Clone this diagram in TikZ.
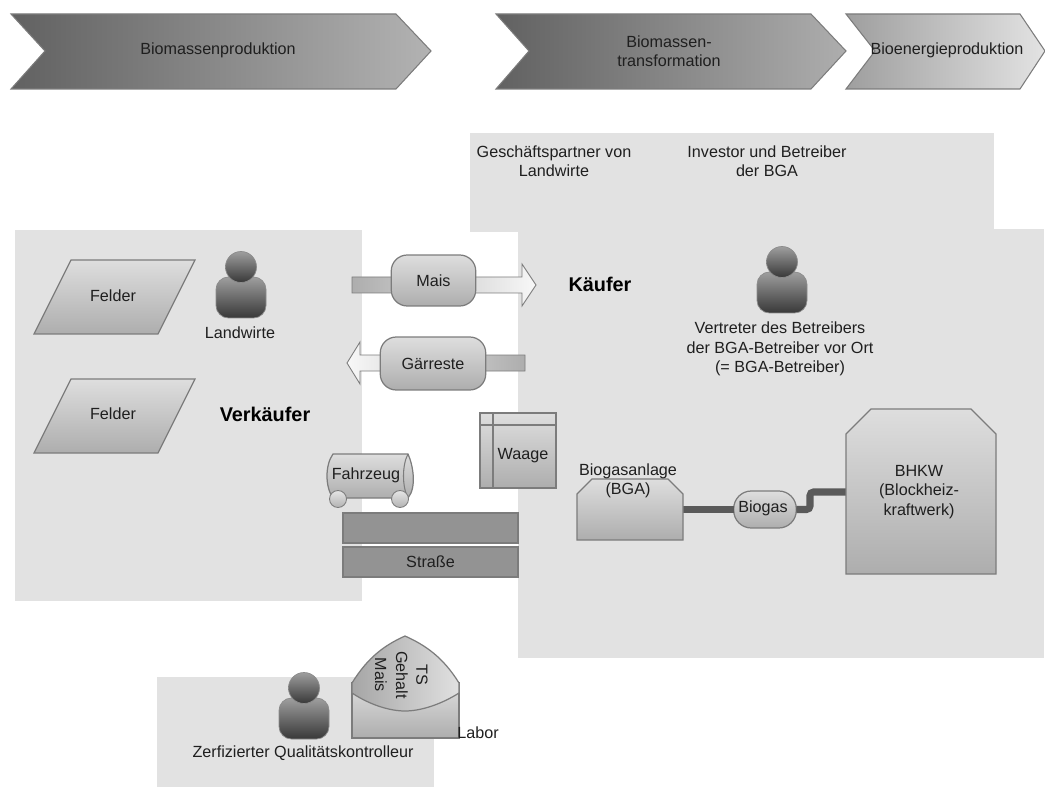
\documentclass[tikz,border=0pt]{standalone}
\usepackage{fontspec}
\setmainfont{Liberation Sans}
\definecolor{panelgray}{HTML}{E2E2E2}
\definecolor{edgegray}{HTML}{7C7C7C}
\definecolor{roadgray}{HTML}{939393}
\definecolor{gasgray}{HTML}{5A5A5A}
\tikzset{
  every node/.style={font=\fontsize{9.2}{11}\selectfont, align=center, inner sep=0pt, outer sep=0pt, text=black!88},
  panel/.style={fill=panelgray},
  chevron/.style={draw=edgegray, line width=0.6pt},
  blockarrow/.style={draw=edgegray, line width=0.5pt},
  softfill/.style={draw=edgegray, line width=0.7pt, top color=#1, bottom color=black!32},
  softfill/.default=black!13,
  pill/.style={softfill, rounded corners=0.32cm},
  headlabel/.style={font=\fontsize{11.3}{13}\selectfont\bfseries, text=black},
  gasline/.style={draw=gasgray, line width=4pt},
  road/.style={draw=edgegray, fill=roadgray, line width=0.6pt, minimum width=3.5cm, minimum height=0.6cm},
  wheel/.style={draw=edgegray, line width=0.5pt, top color=black!10, bottom color=black!30},
  personpart/.style={draw=black!45, line width=0.4pt, top color=black!38, bottom color=black!78}
}
\begin{document}
\begin{tikzpicture}[x=0.02cm, y=-0.02cm]
  \useasboundingbox (0,0) rectangle (1045,787);

  % grey areas
  \fill[panel] (470,133) rectangle (994,232);
  \fill[panel] (518,229) rectangle (1044,658);
  \fill[panel] (15,230) rectangle (362,601);
  \fill[panel] (157,677) rectangle (434,787);

  % value chain
  \shadedraw[chevron, left color=black!62, right color=black!30] (11,14) -- (396,14) -- (431,51) -- (396,89) -- (11,89) -- (45,51) -- cycle;
  \shadedraw[chevron, left color=black!62, right color=black!32] (496,14) -- (811,14) -- (846,51) -- (811,89) -- (496,89) -- (529,51) -- cycle;
  \shadedraw[chevron, left color=black!38, right color=black!11] (846,14) -- (1020,14) -- (1045,51) -- (1020,89) -- (846,89) -- (875,51) -- cycle;
  \node (biomasse) at (218,50) {Biomassenproduktion};
  \node (transform) at (669,51) {Biomassen-\\transformation};
  \node (bioenergie) at (947,50) {Bioenergieproduktion};

  \node (partner) at (554,161) {Geschäftspartner von\\Landwirte};
  \node (investor) at (767,161) {Investor und Betreiber\\der BGA};

  % seller side
  \draw[softfill] (71,260) -- (195,260) -- (158,334) -- (34,334) -- cycle;
  \draw[softfill] (71,379) -- (195,379) -- (158,453) -- (34,453) -- cycle;
  \node (felderA) at (113,296) {Felder};
  \node (felderB) at (113,414) {Felder};
  \node (landwirte) at (240,333) {Landwirte};
  \node[headlabel] (verkaeufer) at (265,414) {Verkäufer};
  \node[headlabel] (kaeufer) at (600,284) {Käufer};

  % persons
  \foreach \px/\py in {241/267, 782/262, 304/688} {
    \shade[personpart, rounded corners=0.25cm] (\px-25,\py+10) rectangle (\px+25,\py+51);
    \shade[personpart] (\px,\py) circle (15.5);
  }
  \node (vertreter) at (780,349) {Vertreter des Betreibers\\der BGA-Betreiber vor Ort\\(= BGA-Betreiber)};
  \node (kontrolleur) at (303,753) {Zerfizierter Qualitätskontrolleur};

  % goods
  \shadedraw[blockarrow, left color=black!32, right color=black!3] (352,277) -- (522,277) -- (522,264) -- (536,285) -- (522,306) -- (522,293) -- (352,293) -- cycle;
  \shadedraw[blockarrow, left color=black!3, right color=black!32] (525,355) -- (360,355) -- (360,342) -- (347,363) -- (360,384) -- (360,371) -- (525,371) -- cycle;
  \node[pill, minimum width=1.69cm, minimum height=1.02cm] (mais) at (433.5,280.5) {Mais};
  \node[pill, minimum width=2.11cm, minimum height=1.06cm] (gaerreste) at (433,363.5) {Gärreste};

  % vehicle and road
  \draw[softfill] (333,454) -- (408,454) .. controls (413,465) and (417,487) .. (408,498) -- (333,498) .. controls (325,487) and (325,465) .. (333,454) -- cycle;
  \draw[edgegray, line width=0.6pt] (408,454) .. controls (402,465) and (402,487) .. (408,498);
  \draw[wheel] (338,499) circle (8.5);
  \draw[wheel] (400,499) circle (8.5);
  \node (fahrzeug) at (366,475) {Fahrzeug};
  \node[road] (roadA) at (430.5,528) {};
  \node[road] (roadB) at (430.5,562) {Straße};

  % scale
  \draw[softfill] (480,413) rectangle (556,488);
  \draw[edgegray, line width=0.6pt] (480,425) -- (556,425) (493,413) -- (493,488);
  \node (waage) at (523,456) {Waage};

  % plant
  \coordinate (bgaeast) at (683,509.5);
  \coordinate (bhkwwest) at (846,492);
  \coordinate (bend) at (810,509.5);
  \node[pill, minimum width=1.25cm, minimum height=0.74cm, rounded corners=0.35cm] (biogas) at (765,509.5) {};
  \draw[gasline] (bgaeast) -- (biogas.west);
  \draw[gasline, rounded corners=2pt] (biogas.east) -- (bend) |- (bhkwwest);
  \draw[softfill] (592,479) -- (668,479) -- (683,494) -- (683,540) -- (577,540) -- (577,494) -- cycle;
  \draw[softfill] (871,409) -- (971,409) -- (996,434) -- (996,574) -- (846,574) -- (846,434) -- cycle;
  \node (bgatext) at (628,480.5) {Biogasanlage\\(BGA)};
  \node (bhkwtext) at (919,492) {BHKW\\(Blockheiz-\\kraftwerk)};
  \node (biogastext) at (763,508) {Biogas};

  % lab
  \draw[softfill] (352,683) -- (352,738) -- (459,738) -- (459,683) -- cycle;
  \shadedraw[draw=edgegray, line width=0.7pt, left color=black!35, right color=black!12] (352,693) -- (352,683) .. controls (368,657) and (385,645) .. (405,636) .. controls (425,645) and (443,657) .. (459,683) -- (459,693) .. controls (440,705) and (420,711) .. (405,711) .. controls (390,711) and (370,705) .. (352,693) -- cycle;
  \node[rotate=-90] (labts) at (422,675) {TS};
  \node[rotate=-90] (labgehalt) at (402,675) {Gehalt};
  \node[rotate=-90] (labmais) at (381,675) {Mais};
  \node (labor) at (478,733) {Labor};
\end{tikzpicture}
\end{document}
